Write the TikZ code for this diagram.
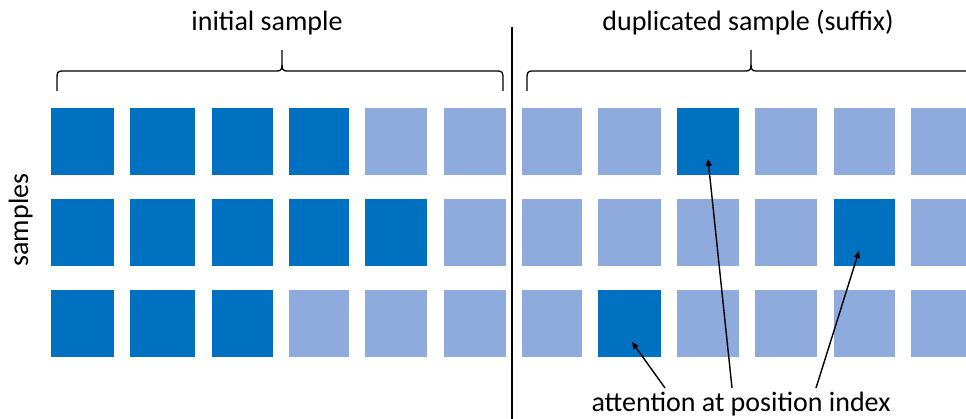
\documentclass[tikz,border=0pt]{standalone}
\usepackage{fontspec}
\setmainfont{Carlito}
\usetikzlibrary{arrows.meta,calc}
\definecolor{darkblue}{HTML}{0070C0}
\definecolor{lightblue}{HTML}{8FAADC}
\begin{document}
\begin{tikzpicture}[x=1pt,y=-1pt,
  cell/.style={inner sep=0pt,outer sep=0pt,draw=none},
  lbl/.style={inner sep=0pt,font=\fontsize{28}{34}\selectfont},
  rule/.style={line width=1.3pt,black},
  brace/.style={line width=1.3pt,black},
  pointer/.style={line width=1.4pt,black,-{Triangle[length=7pt,width=6pt]}}]
\useasboundingbox (0,0) rectangle (966,419);
\clip (0,0) rectangle (966,419);
% cells
\foreach \t/\b/\n/\k [count=\rr] in {108/175/4/9,199/266/5/11,290/357/3/8}{
  \foreach \l/\rt [count=\cc] in {51/114,130/195,212/273,289/349,365/427,444/506,522/582,598/661,677/739,755/817,834/895,911/973}{
    \def\fc{lightblue}
    \ifnum\cc>\n\relax\else\def\fc{darkblue}\fi
    \ifnum\cc=\k\relax\def\fc{darkblue}\fi
    \node[cell,fill=\fc,minimum width={(\rt-\l)*1pt},minimum height={(\b-\t)*1pt}] (c-\rr-\cc) at ({(\l+\rt)/2},{(\t+\b)/2}) {};
  }
}
% labels
\node[lbl,anchor=base] (init) at (267,31) {initial sample};
\node[lbl,anchor=base] (dup) at (748,31) {duplicated sample (suffix)};
\node[lbl,anchor=base,rotate=90] (samp) at (28,220) {samples};
\node[lbl,anchor=base] (att) at (741,411) {attention at position index};
% divider
\coordinate (dtop) at (512,27);
\coordinate (dbot) at (512,420);
\draw[rule] (dtop) -- (dbot);
% braces
\draw[brace] (57,91) -- (57,77) .. controls (57,73) and (58,71) .. (62,71)
  -- (277,71) .. controls (281,71) and (282,69) .. (282,65) -- (282,50);
\draw[brace] (503,91) -- (503,77) .. controls (503,73) and (502,71) .. (498,71)
  -- (287,71) .. controls (283,71) and (282,69) .. (282,65);
\draw[brace] (527,91) -- (527,77) .. controls (527,73) and (528,71) .. (532,71)
  -- (746,71) .. controls (750,71) and (751,69) .. (751,65) -- (751,50);
\draw[brace] (975,91) -- (975,77) .. controls (975,73) and (974,71) .. (970,71)
  -- (756,71) .. controls (752,71) and (751,69) .. (751,65);
% pointers
\coordinate (p1) at (665,388);
\coordinate (p2) at (732,388);
\coordinate (p3) at (816,388);
\draw[pointer] (p1) -- ($(c-3-8.center)+(2.5,18.5)$);
\draw[pointer] (p2) -- ($(c-1-9.center)+(0,17.5)$);
\draw[pointer] (p3) -- ($(c-2-11.center)+(-5.5,18.5)$);
\end{tikzpicture}
\end{document}
